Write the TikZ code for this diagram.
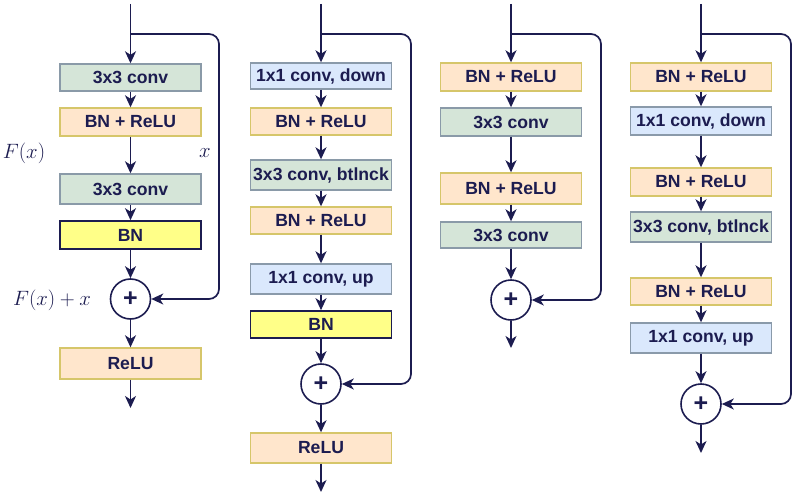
\documentclass[tikz,border=0pt]{standalone}
\usepackage[no-math]{fontspec}
\newfontfamily\lsans{Liberation Sans}
\usetikzlibrary{arrows.meta}
\definecolor{ink}{HTML}{1C1C50}
\definecolor{gfill}{HTML}{D5E5D8}
\definecolor{gline}{HTML}{8A9AA8}
\definecolor{ofill}{HTML}{FFE6CC}
\definecolor{oline}{HTML}{D6C66A}
\definecolor{bfill}{HTML}{DAE8FC}
\definecolor{bline}{HTML}{8A9AAA}
\definecolor{yfill}{HTML}{FFFF88}
\begin{document}
\begin{tikzpicture}[x=1pt,y=-1pt,line width=1.6pt,draw=ink,
  >={Stealth[length=12pt,width=11pt,inset=3.5pt]},
  blk/.style={draw,line width=1.4pt,minimum width=141pt,inner sep=0pt,
    font=\lsans\bfseries\fontsize{17.6}{20}\selectfont,text=ink},
  gbox/.style={blk,fill=gfill,draw=gline},
  obox/.style={blk,fill=ofill,draw=oline},
  bbox/.style={blk,fill=bfill,draw=bline},
  ybox/.style={blk,fill=yfill,draw=ink,line width=1.6pt},
  sumc/.style={circle,draw=ink,fill=white,minimum size=40pt,inner sep=0pt,line width=1.6pt,
    font=\lsans\bfseries\fontsize{25}{25}\selectfont,text=ink},
  lbl/.style={text=ink,font=\fontsize{20.5}{22}\selectfont},
  conn/.style={->,draw=ink,line width=1.7pt},
  skip/.style={->,draw=ink,line width=1.7pt,rounded corners=10pt}]
\useasboundingbox (0,0) rectangle (800,495);

% ---------- column 1 ----------
\coordinate (a0) at (130.5,4);
\coordinate (as) at (130.5,34);
\coordinate (ar) at (219,34);
\node[gbox,minimum height=27pt] (a1) at (130.5,77.5) {3x3 conv};
\node[obox,minimum height=28pt] (a2) at (130.5,122) {BN + ReLU};
\node[gbox,minimum height=30pt] (a3) at (130.5,189) {3x3 conv};
\node[ybox,minimum height=28pt] (a4) at (130.5,235) {BN};
\node[sumc] (ac) at (130.5,299) {+};
\node[obox,minimum height=31pt] (a5) at (130.5,363.5) {ReLU};
\coordinate (ae) at (130.5,408);
\draw[conn] (a0) -- (a1);
\draw[conn] (a1) -- (a2);
\draw[conn] (a2) -- (a3);
\draw[conn] (a3) -- (a4);
\draw[conn] (a4) -- (ac);
\draw[conn] (ac) -- (a5);
\draw[conn] (a5) -- (ae);
\draw[skip] (as) -- (ar) |- (ac.east);
\node[lbl] (lf) at (24,153) {$F(x)$};
\node[lbl] (lx) at (205,153) {$x$};
\node[lbl] (lfx) at (52,300) {$F(x)+x$};

% ---------- column 2 ----------
\coordinate (b0) at (321,4);
\coordinate (bs) at (321,34);
\coordinate (br) at (411,34);
\node[bbox,minimum height=26pt] (b1) at (321,76) {1x1 conv, down};
\node[obox,minimum height=27pt] (b2) at (321,121.5) {BN + ReLU};
\node[gbox,minimum height=30pt] (b3) at (321,175) {3x3 conv, btlnck};
\node[obox,minimum height=27pt] (b4) at (321,220.5) {BN + ReLU};
\node[bbox,minimum height=30pt] (b5) at (321,279) {1x1 conv, up};
\node[ybox,minimum height=27pt] (b6) at (321,324.5) {BN};
\node[sumc] (bc) at (321,384) {+};
\node[obox,minimum height=30pt] (b7) at (321,448) {ReLU};
\coordinate (be) at (321,492);
\draw[conn] (b0) -- (b1);
\draw[conn] (b1) -- (b2);
\draw[conn] (b2) -- (b3);
\draw[conn] (b3) -- (b4);
\draw[conn] (b4) -- (b5);
\draw[conn] (b5) -- (b6);
\draw[conn] (b6) -- (bc);
\draw[conn] (bc) -- (b7);
\draw[conn] (b7) -- (be);
\draw[skip] (bs) -- (br) |- (bc.east);

% ---------- column 3 ----------
\coordinate (c0) at (511,4);
\coordinate (cs) at (511,34);
\coordinate (cr) at (601,34);
\node[obox,minimum height=28pt] (c1) at (511,77) {BN + ReLU};
\node[gbox,minimum height=28pt] (c2) at (511,122) {3x3 conv};
\node[obox,minimum height=31pt] (c3) at (511,188.5) {BN + ReLU};
\node[gbox,minimum height=26pt] (c4) at (511,235) {3x3 conv};
\node[sumc] (cc) at (511,300) {+};
\coordinate (ce) at (511,348);
\draw[conn] (c0) -- (c1);
\draw[conn] (c1) -- (c2);
\draw[conn] (c2) -- (c3);
\draw[conn] (c3) -- (c4);
\draw[conn] (c4) -- (cc);
\draw[conn] (cc) -- (ce);
\draw[skip] (cs) -- (cr) |- (cc.east);

% ---------- column 4 ----------
\coordinate (d0) at (701,4);
\coordinate (ds) at (701,34);
\coordinate (dr) at (791,34);
\node[obox,minimum height=28pt] (d1) at (701,77) {BN + ReLU};
\node[bbox,minimum height=28pt] (d2) at (701,121) {1x1 conv, down};
\node[obox,minimum height=28pt] (d3) at (701,182) {BN + ReLU};
\node[gbox,minimum height=30pt] (d4) at (701,227) {3x3 conv, btlnck};
\node[obox,minimum height=27pt] (d5) at (701,291.5) {BN + ReLU};
\node[bbox,minimum height=30pt] (d6) at (701,338) {1x1 conv, up};
\node[sumc] (dc) at (701,404) {+};
\coordinate (de) at (701,453);
\draw[conn] (d0) -- (d1);
\draw[conn] (d1) -- (d2);
\draw[conn] (d2) -- (d3);
\draw[conn] (d3) -- (d4);
\draw[conn] (d4) -- (d5);
\draw[conn] (d5) -- (d6);
\draw[conn] (d6) -- (dc);
\draw[conn] (dc) -- (de);
\draw[skip] (ds) -- (dr) |- (dc.east);
\end{tikzpicture}
\end{document}
